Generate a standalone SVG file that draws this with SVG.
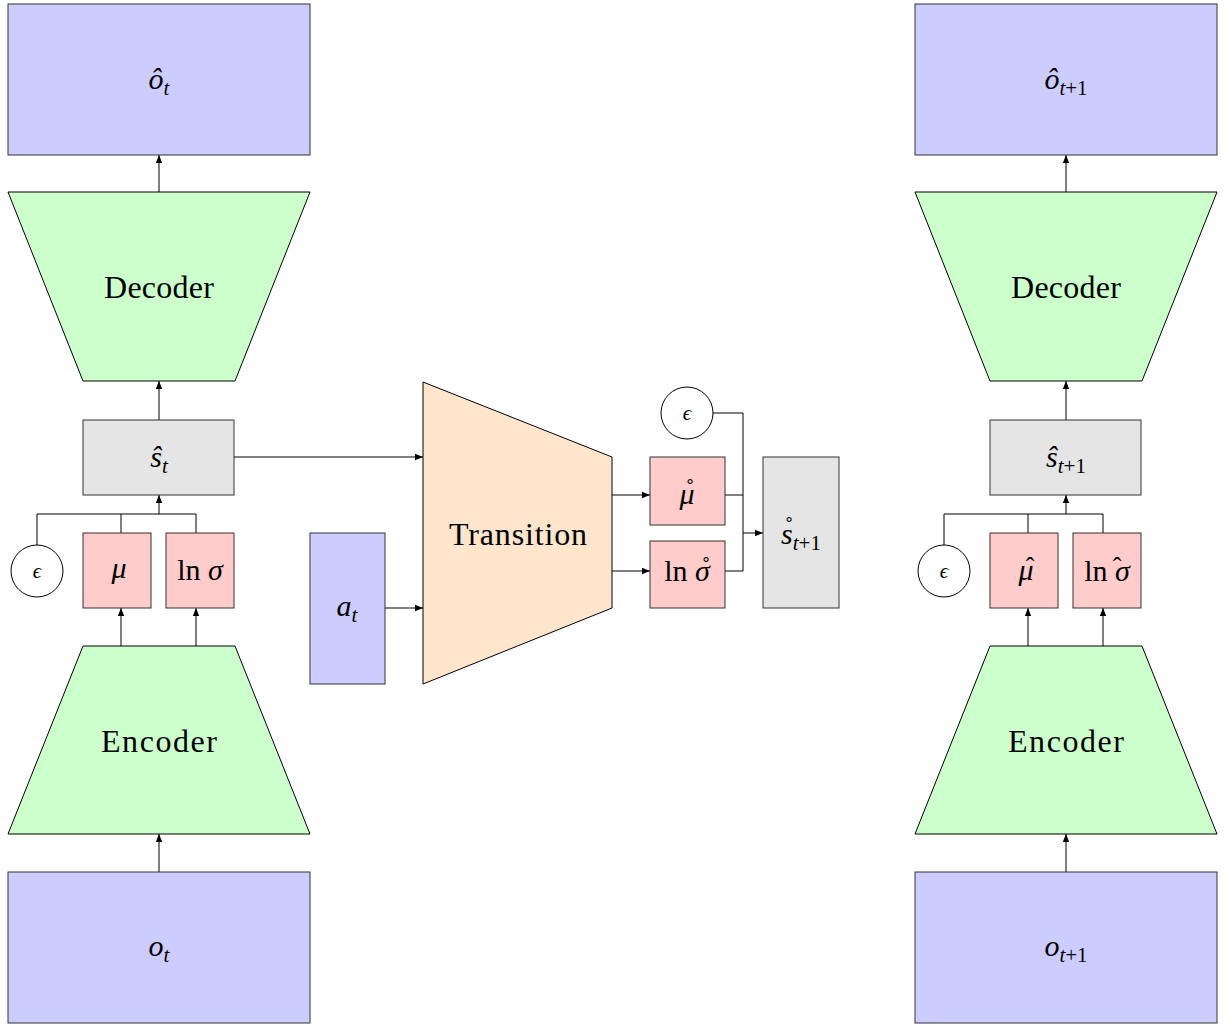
<svg xmlns="http://www.w3.org/2000/svg" width="1225" height="1025" viewBox="0 0 1225 1025">
<defs>
<marker id="ah" viewBox="0 0 10 10" refX="10" refY="5" markerWidth="8" markerHeight="8" markerUnits="userSpaceOnUse" orient="auto">
<path d="M0,1 L10,5 L0,9 Z" fill="#000"/>
</marker>
<style>
.obs{fill:#ccccff;stroke:#333;stroke-width:1}
.net{fill:#ccffcc;stroke:#000;stroke-width:1}
.st{fill:#e5e5e5;stroke:#333;stroke-width:1}
.par{fill:#ffcccc;stroke:#333;stroke-width:1}
.tr{fill:#ffe5cc;stroke:#000;stroke-width:1}
.eps{fill:#fff;stroke:#000;stroke-width:1}
.ln{fill:none;stroke:#000;stroke-width:1}
.ar{fill:none;stroke:#000;stroke-width:1;marker-end:url(#ah)}
text{font-family:"Liberation Serif","DejaVu Serif",serif;fill:#000;text-anchor:middle}
.w{font-size:32px}
.m{font-size:30px;font-style:italic}
.e{font-size:21px;font-style:italic}
.sub{font-size:21px}
.up{font-style:normal}
.acc{font-size:26px;font-style:normal}
</style>
</defs>

<g id="connectors">
<line class="ar" x1="159" y1="192" x2="159" y2="155"/>
<line class="ar" x1="159" y1="420" x2="159" y2="381"/>
<polyline class="ln" points="37,545 37,514 159,514"/>
<polyline class="ln" points="121,533 121,514"/>
<polyline class="ln" points="196,533 196,514 159,514"/>
<line class="ar" x1="159" y1="514" x2="159" y2="495"/>
<line class="ar" x1="121" y1="646" x2="121" y2="608"/>
<line class="ar" x1="196" y1="646" x2="196" y2="608"/>
<line class="ar" x1="159" y1="872" x2="159" y2="834"/>

<line class="ar" x1="1066" y1="192" x2="1066" y2="155"/>
<line class="ar" x1="1066" y1="420" x2="1066" y2="381"/>
<polyline class="ln" points="944,545 944,514 1066,514"/>
<polyline class="ln" points="1028,533 1028,514"/>
<polyline class="ln" points="1103,533 1103,514 1066,514"/>
<line class="ar" x1="1066" y1="514" x2="1066" y2="495"/>
<line class="ar" x1="1028" y1="646" x2="1028" y2="608"/>
<line class="ar" x1="1103" y1="646" x2="1103" y2="608"/>
<line class="ar" x1="1066" y1="872" x2="1066" y2="834"/>

<line class="ar" x1="234" y1="457" x2="423" y2="457"/>
<line class="ar" x1="385" y1="608" x2="423" y2="608"/>
<line class="ar" x1="612" y1="495" x2="650" y2="495"/>
<line class="ar" x1="612" y1="571" x2="650" y2="571"/>
<polyline class="ln" points="713,413 743,413 743,533"/>
<polyline class="ln" points="725,495 743,495"/>
<polyline class="ln" points="725,571 743,571 743,533"/>
<line class="ar" x1="743" y1="533" x2="763" y2="533"/>
</g>

<g id="o_hat_t"><rect class="obs" x="8" y="4" width="302" height="151"/><text class="m" x="159" y="89">ô<tspan class="sub" dy="6">t</tspan></text></g>
<g id="decoder_t"><polygon class="net" points="8,192 310,192 235,381 83,381"/><text class="w" x="159" y="298" textLength="110">Decoder</text></g>
<g id="s_hat_t"><rect class="st" x="83" y="420" width="151" height="75"/><text class="m" x="159" y="467">ŝ<tspan class="sub" dy="6">t</tspan></text></g>
<g id="eps_t"><circle class="eps" cx="37" cy="571" r="26"/><text class="e" x="37" y="578">ϵ</text></g>
<g id="mu_t"><rect class="par" x="83" y="533" width="68" height="75"/><text class="m" x="119" y="578">μ</text></g>
<g id="lnsigma_t"><rect class="par" x="166" y="533" width="68" height="75"/><text class="m" x="200" y="580"><tspan class="up">ln</tspan> σ</text></g>
<g id="encoder_t"><polygon class="net" points="83,646 235,646 310,834 8,834"/><text class="w" x="159" y="752" textLength="116">Encoder</text></g>
<g id="o_t"><rect class="obs" x="8" y="872" width="302" height="151"/><text class="m" x="159" y="956">o<tspan class="sub" dy="6">t</tspan></text></g>

<g id="a_t"><rect class="obs" x="310" y="533" width="75" height="151"/><text class="m" x="347" y="616">a<tspan class="sub" dy="6">t</tspan></text></g>
<g id="transition"><polygon class="tr" points="423,382 612,457 612,608 423,684"/><text class="w" x="518" y="545" textLength="138">Transition</text></g>
<g id="mu_ring"><rect class="par" x="650" y="457" width="75" height="68"/><text class="m" x="687" y="504">μ<tspan class="acc" x="690" y="497">˚</tspan></text></g>
<g id="lnsigma_ring"><rect class="par" x="650" y="541" width="75" height="67"/><text class="m" x="687" y="581"><tspan class="up">ln</tspan> σ<tspan class="acc" x="706" y="575">˚</tspan></text></g>
<g id="eps_mid"><circle class="eps" cx="687" cy="413" r="26"/><text class="e" x="687" y="420">ϵ</text></g>
<g id="s_ring_t1"><rect class="st" x="763" y="457" width="76" height="151"/><text class="m" x="801" y="544">s<tspan class="sub" dy="6">t</tspan><tspan class="sub up">+1</tspan><tspan class="acc" x="789" y="535">˚</tspan></text></g>

<g id="o_hat_t1"><rect class="obs" x="915" y="4" width="302" height="151"/><text class="m" x="1066" y="89">ô<tspan class="sub" dy="6">t</tspan><tspan class="sub up">+1</tspan></text></g>
<g id="decoder_t1"><polygon class="net" points="915,192 1217,192 1142,381 990,381"/><text class="w" x="1066" y="298" textLength="110">Decoder</text></g>
<g id="s_hat_t1"><rect class="st" x="990" y="420" width="151" height="75"/><text class="m" x="1066" y="467">ŝ<tspan class="sub" dy="6">t</tspan><tspan class="sub up">+1</tspan></text></g>
<g id="eps_t1"><circle class="eps" cx="944" cy="571" r="26"/><text class="e" x="944" y="578">ϵ</text></g>
<g id="mu_hat_t1"><rect class="par" x="990" y="533" width="68" height="75"/><text class="m" x="1026" y="580">μ<tspan class="acc" x="1030" y="575">ˆ</tspan></text></g>
<g id="lnsigma_hat_t1"><rect class="par" x="1073" y="533" width="68" height="75"/><text class="m" x="1107" y="581"><tspan class="up">ln</tspan> σ<tspan class="acc" x="1117" y="575">ˆ</tspan></text></g>
<g id="encoder_t1"><polygon class="net" points="990,646 1142,646 1217,834 915,834"/><text class="w" x="1066" y="752" textLength="116">Encoder</text></g>
<g id="o_t1"><rect class="obs" x="915" y="872" width="302" height="151"/><text class="m" x="1066" y="956">o<tspan class="sub" dy="6">t</tspan><tspan class="sub up">+1</tspan></text></g>
</svg>
